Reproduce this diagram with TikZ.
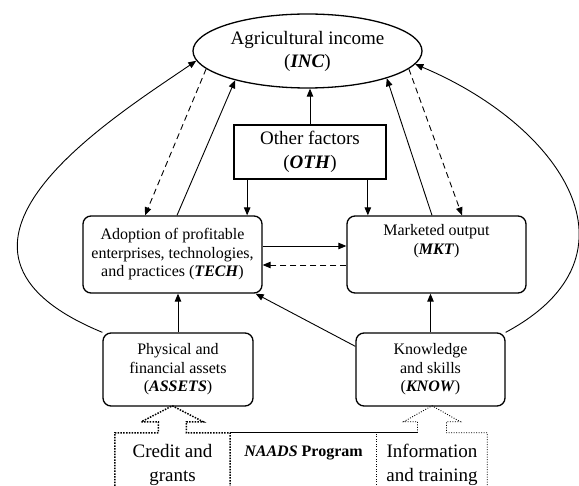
\documentclass[tikz,border=0pt]{standalone}
\usepackage{fontspec}
\setmainfont{Liberation Serif}
\usepackage{tikz}
\usetikzlibrary{shapes,arrows.meta,positioning}

\newcommand{\abbr}[1]{(\textbf{\textit{#1}})}

\begin{document}
\begin{tikzpicture}[
			x=1pt, y=-1pt,
			boxtext/.style={align=center, font=\fontsize{16}{18.5}\selectfont},
			factor/.style={boxtext, draw, rounded corners=8pt, line width=1.3pt, minimum width=179pt, minimum height=77pt, inner sep=0pt},
			income/.style={draw, ellipse, line width=1.3pt, minimum width=229pt, minimum height=74pt, inner sep=0pt, align=center, font=\fontsize{19}{23}\selectfont},
			other/.style={draw, rectangle, line width=1.7pt, minimum width=152pt, minimum height=54pt, inner sep=0pt, align=center, font=\fontsize{19}{24}\selectfont},
			program/.style={minimum width=115pt, minimum height=64pt, inner sep=0pt, align=center, font=\fontsize{19}{23.5}\selectfont},
			arrow/.style={line width=0.9pt, -{Triangle[length=8pt,width=6.5pt]}},
			feedback/.style={arrow, dash pattern=on 6pt off 4pt},
			dotbold/.style={line width=1.5pt, dash pattern=on 1.5pt off 1.3pt},
			dotthin/.style={line width=0.9pt, dash pattern=on 0.9pt off 1.6pt}
			]
			\useasboundingbox (0,0) rectangle (579,486);
			
			% 方框与椭圆
			\node (INC) [income] at (307.5,51) {Agricultural income\\\abbr{INC}};
			\node (OTH) [other] at (310,152) {Other factors\\\abbr{OTH}};
			\node (TECH) [factor] at (172.5,254.5) {Adoption of profitable\\enterprises, technologies,\\and practices \abbr{TECH}};
			\node (MKT) [factor, label={[boxtext, anchor=north, yshift=-9pt, inner sep=0pt]north:Marketed output\\\abbr{MKT}}] at (436.5,254.5) {};
			\node (ASSETS) [factor, minimum width=150pt, minimum height=73pt] at (178,369.5) {Physical and\\financial assets\\\abbr{ASSETS}};
			\node (KNOW) [factor, minimum width=149pt, minimum height=73pt] at (430.5,369.5) {Knowledge\\and skills\\\abbr{KNOW}};
			
			% 底部项目框
			\node (CRED) [program] at (172.5,465) {Credit and\\grants};
			\node (INFO) [program, minimum width=110pt] at (432,465) {Information\\and training};
			\node (NAADS) [font=\fontsize{16}{18}\selectfont\bfseries] at (303.5,453) {\textit{NAADS} Program};
			
			% 连线
			\draw [arrow] (OTH.north) -- (OTH.north |- INC.south);
			\draw [arrow] ([xshift=14pt]OTH.south west) -- ([xshift=14pt]OTH.south west |- TECH.north);
			\draw [arrow] ([xshift=-19pt]OTH.south east) -- ([xshift=-19pt]OTH.south east |- MKT.north);
			\draw [arrow] ([yshift=8.5pt]TECH.east) -- ([yshift=8.5pt]TECH.east -| MKT.west);
			\draw [feedback] ([yshift=-10.5pt]MKT.west) -- ([yshift=-10.5pt]MKT.west -| TECH.east);
			\draw [arrow] (ASSETS.north) -- (ASSETS.north |- TECH.south);
			\draw [arrow] (KNOW.north) -- (KNOW.north |- MKT.south);
			\draw [arrow] ([yshift=-14pt]KNOW.north west) -- ([xshift=-7pt]TECH.south east);
			\draw [arrow] ([xshift=4.5pt]TECH.north) -- (INC.202);
			\draw [feedback] (INC.190) -- ([xshift=-27.5pt]TECH.north);
			\draw [arrow] ([xshift=-4.5pt]MKT.north) -- (INC.341);
			\draw [feedback] (INC.350) -- ([xshift=25.5pt]MKT.north);
			\draw [arrow] (ASSETS.north west) .. controls (-100,249) and (112,118.5) .. (INC.185);
			\draw [arrow] (KNOW.north east) .. controls (650,255) and (560,125) .. (INC.353);
			
			% 虚线箭头
			\draw [dotbold] (CRED.south west) -- (CRED.north west) -- ++(43.5,0) -- ++(0,-11) -- ++(-17,0) -- ++(31,-16) -- ++(31,16) -- ++(-17,0) -- ++(0,11) -- (CRED.north east) -- (CRED.south east);
			\draw [dotthin] (INFO.south west) -- (INFO.north west);
			\draw [dotthin] ([xshift=-14.5pt]INFO.north) -- ++(0,-11) -- ++(-14,0) -- ++(28.5,-16) -- ++(28.5,16) -- ++(-14,0) -- ++(0,11) -- (INFO.north east) -- (INFO.south east);
			\draw [line width=0.8pt] (CRED.north east) -- ([xshift=-14.5pt]INFO.north);
			
		\end{tikzpicture}
\end{document}
